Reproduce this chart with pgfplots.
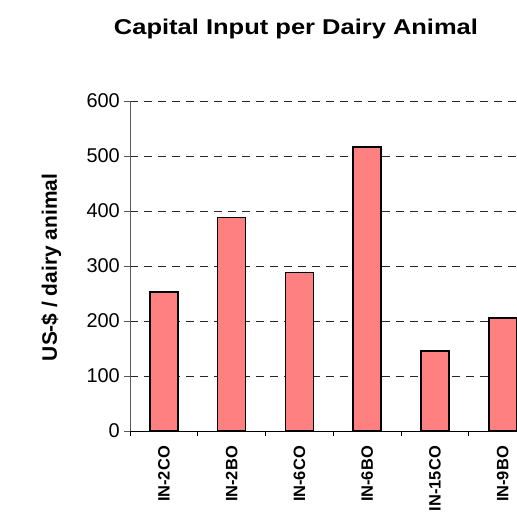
\documentclass[border=0pt]{standalone}
\usepackage{fontspec}
\setmainfont{Liberation Sans}
\usepackage{pgfplots}
\pgfplotsset{compat=1.18}
\definecolor{barfill}{HTML}{FF8080}
\begin{document}
\begin{tikzpicture}[x=1bp,y=1bp]
\useasboundingbox (-130,-87) rectangle (387,431);
\begin{axis}[
    at={(0,0)}, anchor=south west,
    scale only axis, width=387bp, height=330bp,
    xmin=-0.5, xmax=5.21, ymin=0, ymax=600,
    axis x line*=bottom, axis y line*=left,
    x axis line style={black, line width=1bp},
    y axis line style={black!65, line width=1bp},
    ytick={0,100,...,600},
    ymajorgrids,
    grid style={black!85, line width=0.8bp, dash pattern=on 8bp off 6bp},
    xtick={0,1,2,3,4,5},
    xticklabels={IN-2CO,IN-2BO,IN-6CO,IN-6BO,IN-15CO,IN-9BO},
    minor xtick={-0.5,0.5,1.5,2.5,3.5,4.5},
    major x tick style={draw=none},
    minor tick length=5bp,
    major tick length=6bp,
    tick align=outside,
    ytick style={black!65, line width=0.8bp},
    minor x tick style={black, line width=0.8bp},
    /pgf/number format/assume math mode=true,
    yticklabel style={font=\fontsize{20}{24}\selectfont, inner sep=0pt, xshift=-4bp},
    xticklabel shift=9bp,
    xticklabel style={font=\bfseries\fontsize{16.5}{20}\selectfont, rotate=90, anchor=east, inner sep=0pt},
]
\addplot[ybar, bar width=28bp, fill=barfill, draw=black, line width=1.5bp]
    coordinates {(0,253) (1,388) (2,288) (3,516) (4,145) (5,205)};
\end{axis}
\node[anchor=base, font=\bfseries\fontsize{21.5}{25}\selectfont] at (166,396.5)
    {\scalebox{1.19}[1]{Capital Input per Dairy Animal}};
\node[rotate=90, anchor=base, font=\bfseries\fontsize{21}{25}\selectfont] at (-73,163.5)
    {US-\$ / dairy animal};
\end{tikzpicture}
\end{document}
